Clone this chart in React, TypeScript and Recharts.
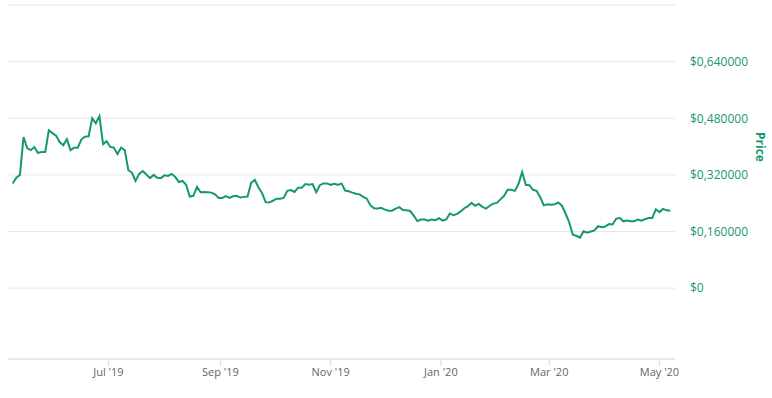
import { CartesianGrid, Line, LineChart, XAxis, YAxis } from 'recharts'

const DAY = 86400000
const START = Date.UTC(2019, 4, 9)
const STEP_DAYS = 2

// price every 2 days from 9 May 2019
const prices = [
  0.296, 0.312, 0.320, 0.427, 0.396, 0.390, 0.399, 0.382, 0.385, 0.385,
  0.446, 0.438, 0.431, 0.413, 0.404, 0.421, 0.390, 0.397, 0.397, 0.420,
  0.428, 0.429, 0.480, 0.466, 0.486, 0.407, 0.415, 0.399, 0.397, 0.379,
  0.397, 0.390, 0.334, 0.326, 0.303, 0.323, 0.331, 0.321, 0.311, 0.320,
  0.312, 0.311, 0.319, 0.317, 0.323, 0.314, 0.300, 0.303, 0.292, 0.259,
  0.261, 0.286, 0.271, 0.272, 0.271, 0.270, 0.265, 0.255, 0.255, 0.260,
  0.255, 0.260, 0.261, 0.256, 0.258, 0.259, 0.298, 0.306, 0.285, 0.269,
  0.243, 0.242, 0.247, 0.253, 0.253, 0.255, 0.275, 0.277, 0.272, 0.284,
  0.284, 0.294, 0.292, 0.294, 0.271, 0.291, 0.296, 0.296, 0.292, 0.295,
  0.292, 0.296, 0.276, 0.274, 0.270, 0.267, 0.265, 0.258, 0.253, 0.234,
  0.226, 0.225, 0.227, 0.222, 0.219, 0.219, 0.225, 0.229, 0.221, 0.220,
  0.218, 0.205, 0.190, 0.194, 0.194, 0.191, 0.194, 0.192, 0.198, 0.191,
  0.194, 0.211, 0.206, 0.210, 0.217, 0.226, 0.232, 0.241, 0.233, 0.238,
  0.230, 0.225, 0.233, 0.239, 0.241, 0.251, 0.261, 0.278, 0.278, 0.275,
  0.295, 0.328, 0.292, 0.291, 0.278, 0.275, 0.257, 0.234, 0.237, 0.236,
  0.237, 0.242, 0.233, 0.211, 0.187, 0.151, 0.148, 0.143, 0.161, 0.157,
  0.160, 0.163, 0.175, 0.172, 0.174, 0.181, 0.180, 0.196, 0.199, 0.189,
  0.191, 0.189, 0.189, 0.194, 0.191, 0.195, 0.198, 0.198, 0.223, 0.215,
  0.224, 0.220, 0.219,
]

const tickDates = [
  Date.UTC(2019, 6, 1), Date.UTC(2019, 8, 1), Date.UTC(2019, 10, 1),
  Date.UTC(2020, 0, 1), Date.UTC(2020, 2, 1), Date.UTC(2020, 4, 1),
]
const tickLabels = ["Jul '19", "Sep '19", "Nov '19", "Jan '20", "Mar '20", "May '20"]
const priceTicks = [0, 0.16, 0.32, 0.48, 0.64, 0.8]

const data = prices.map((price, i) => ({ t: START + i * STEP_DAYS * DAY, price }))

const GREEN = '#15996c'

const fmtPrice = (v: number) => {
  if (v === 0) return '$0'
  if (v >= 0.8) return ''
  return '$' + v.toFixed(6).replace('.', ',')
}

const fmtDate = (v: number) => {
  const i = tickDates.indexOf(v)
  return i >= 0 ? tickLabels[i] : ''
}

function PriceTitle() {
  return (
    <text x={760} y={147} transform="rotate(90 760 147)" textAnchor="middle"
      dominantBaseline="central" fill={GREEN} fontSize={12} fontWeight="bold"
      fontFamily="'Open Sans', sans-serif">
      Price
    </text>
  )
}

export default function App() {
  return (
    <div style={{ width: 772, height: 398 }}>
      <style>{'body{margin:0}'}</style>
      <LineChart width={772} height={398} data={data}
        margin={{ top: 5, right: 0, bottom: 0, left: 8 }}>
        <CartesianGrid vertical={false} stroke="#e6e6e6" />
        <XAxis dataKey="t" type="number" scale="time"
          domain={[Date.UTC(2019, 6, 1) - 55.6 * DAY, Date.UTC(2019, 6, 1) + 313.6 * DAY]}
          ticks={tickDates} tickFormatter={fmtDate} height={39}
          tick={{ fontSize: 11, fill: '#666', fontFamily: "'Open Sans', sans-serif" }}
          axisLine={{ stroke: '#dcdcdc' }} tickLine={{ stroke: '#dcdcdc' }} tickSize={7} />
        <YAxis orientation="right" width={97} domain={[-0.2, 0.8]} ticks={priceTicks}
          tickFormatter={fmtPrice} axisLine={false} tickLine={false} tickMargin={9}
          tick={{ fontSize: 12, fill: GREEN, fontFamily: "'Open Sans', sans-serif" }}
          label={<PriceTitle />} />
        <Line dataKey="price" stroke={GREEN} strokeWidth={2} dot={false}
          isAnimationActive={false} />
      </LineChart>
    </div>
  )
}
